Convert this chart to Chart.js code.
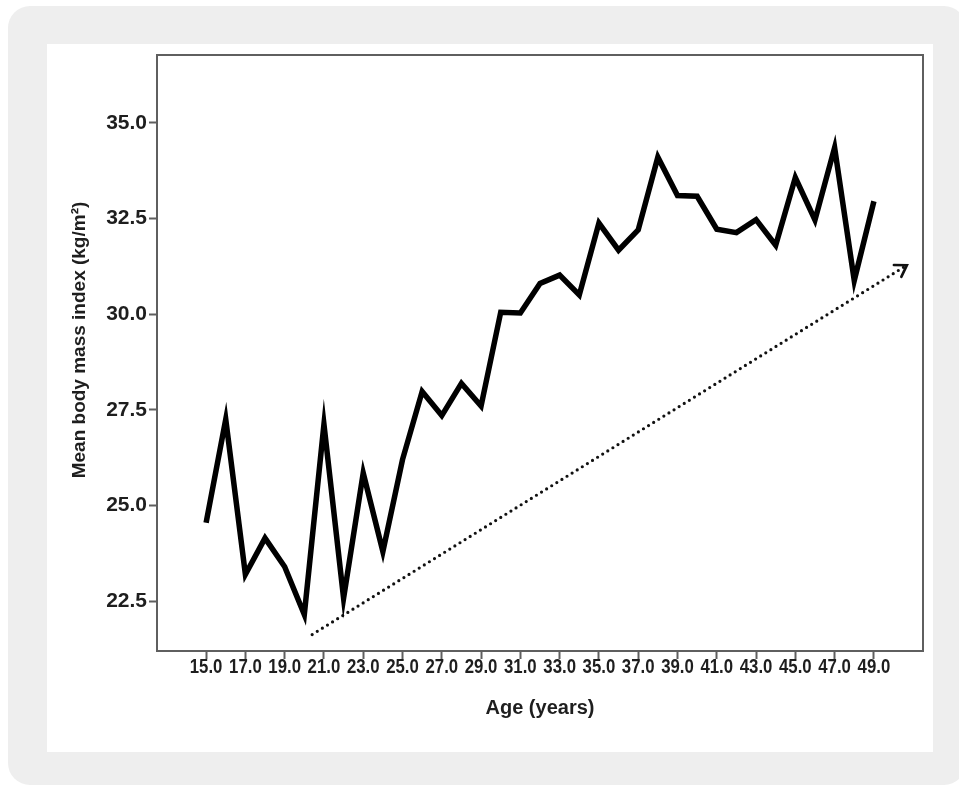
<!DOCTYPE html>
<html>
<head>
<meta charset="utf-8">
<script src="https://cdn.jsdelivr.net/npm/chart.js@4/dist/chart.umd.min.js"></script>
<style>
  html, body { margin: 0; padding: 0; background: #ffffff; }
  body { width: 959px; height: 786px; overflow: hidden; position: relative; }
  #panel { position: absolute; left: 8px; top: 6px; width: 958px; height: 779px; background: #eeeeee; border-radius: 22px; }
  #sheet { position: absolute; left: 47px; top: 44px; width: 886px; height: 708px; background: #ffffff; }
  #wrap { position: absolute; left: 0; top: 0; width: 959px; height: 786px; }
</style>
</head>
<body>
<div id="panel"></div>
<div id="sheet"></div>
<div id="wrap"><canvas id="bmiChart" width="959" height="786"></canvas></div>
<script>
// Age in years and mean body mass index at each age
const ages = [15, 16, 17, 18, 19, 20, 21, 22, 23, 24, 25, 26, 27, 28, 29, 30, 31, 32,
              33, 34, 35, 36, 37, 38, 39, 40, 41, 42, 43, 44, 45, 46, 47, 48, 49];
const bmi = [24.55, 27.25, 23.20, 24.15, 23.40, 22.15, 27.12, 22.58, 25.85, 23.80,
             26.20, 27.98, 27.35, 28.19, 27.60, 30.05, 30.03, 30.80, 31.02, 30.50,
             32.38, 31.67, 32.20, 34.10, 33.10, 33.08, 32.22, 32.13, 32.47, 31.80,
             33.57, 32.46, 34.35, 30.88, 32.95];

// Upward trend arrow (start and end)
const trendAge = [20.4, 50.68];
const trendBmi = [21.63, 31.28];

// Axis tick values
const xTicks = [15, 17, 19, 21, 23, 25, 27, 29, 31, 33, 35, 37, 39, 41, 43, 45, 47, 49];
const yTicks = [22.5, 25.0, 27.5, 30.0, 32.5, 35.0];

const yTitle = 'Mean body mass index (kg/m²)';
const xTitle = 'Age (years)';

const FONT = '"Liberation Sans", Arial, Helvetica, sans-serif';
const INK = '#1e1e1e';
const FRAME = '#5f5f5f';
const fmt = v => Number(v).toFixed(1);

// Closed frame around the plotting area
const framePlugin = {
  id: 'frame',
  beforeDatasetsDraw(chart) {
    const a = chart.chartArea, ctx = chart.ctx;
    ctx.save();
    ctx.strokeStyle = FRAME;
    ctx.lineWidth = 2;
    ctx.strokeRect(a.left, a.top, a.right - a.left, a.bottom - a.top);
    ctx.restore();
  }
};

// Narrow, tall age labels under each tick of the x scale
const xLabelPlugin = {
  id: 'xLabels',
  afterDraw(chart) {
    const s = chart.scales.x, ctx = chart.ctx;
    ctx.save();
    ctx.font = 'bold 20px ' + FONT;
    ctx.fillStyle = INK;
    ctx.textAlign = 'center';
    ctx.textBaseline = 'middle';
    s.ticks.forEach(t => {
      ctx.save();
      ctx.translate(s.getPixelForValue(t.value), chart.chartArea.bottom + 16);
      ctx.scale(0.84, 1);
      ctx.fillText(fmt(t.value), 0, 0);
      ctx.restore();
    });
    ctx.restore();
  }
};

// Vertical axis title, set a little above the middle of the frame
const yTitlePlugin = {
  id: 'yTitle',
  afterDraw(chart) {
    const ctx = chart.ctx, a = chart.chartArea;
    ctx.save();
    ctx.translate(80, (a.top + a.bottom) / 2 - 13);
    ctx.rotate(-Math.PI / 2);
    ctx.font = 'bold 19px ' + FONT;
    ctx.fillStyle = INK;
    ctx.textAlign = 'center';
    ctx.textBaseline = 'middle';
    ctx.fillText(yTitle, 0, 0);
    ctx.restore();
  }
};

// Open arrowhead at the end of the trend line
const arrowPlugin = {
  id: 'arrowHead',
  afterDatasetsDraw(chart) {
    const pts = chart.getDatasetMeta(1).data;
    if (pts.length < 2) return;
    const p0 = pts[pts.length - 2], p1 = pts[pts.length - 1];
    const ang = Math.atan2(p1.y - p0.y, p1.x - p0.x);
    const len = 13, spread = Math.PI / 5.5;
    const ctx = chart.ctx;
    ctx.save();
    ctx.strokeStyle = '#111';
    ctx.lineWidth = 2.6;
    ctx.lineCap = 'round';
    ctx.lineJoin = 'miter';
    ctx.beginPath();
    ctx.moveTo(p1.x - len * Math.cos(ang - spread), p1.y - len * Math.sin(ang - spread));
    ctx.lineTo(p1.x, p1.y);
    ctx.lineTo(p1.x - len * Math.cos(ang + spread), p1.y - len * Math.sin(ang + spread));
    ctx.stroke();
    ctx.restore();
  }
};

new Chart(document.getElementById('bmiChart'), {
  type: 'line',
  data: {
    datasets: [
      {
        data: ages.map((a, i) => ({ x: a, y: bmi[i] })),
        borderColor: '#000000',
        borderWidth: 5.5,
        borderJoinStyle: 'miter',
        borderCapStyle: 'butt',
        pointRadius: 0,
        tension: 0,
        fill: false
      },
      {
        data: trendAge.map((a, i) => ({ x: a, y: trendBmi[i] })),
        borderColor: '#111111',
        borderWidth: 3.2,
        borderDash: [0, 6],
        borderCapStyle: 'round',
        pointRadius: 0,
        tension: 0,
        fill: false,
        clip: false
      }
    ]
  },
  options: {
    responsive: false,
    animation: false,
    events: [],
    layout: { padding: { left: 0, top: 55, right: 36, bottom: 0 } },
    plugins: { legend: { display: false }, tooltip: { enabled: false } },
    scales: {
      x: {
        type: 'linear',
        position: 'bottom',
        min: 12.5,
        max: 51.5,
        afterBuildTicks: s => { s.ticks = xTicks.map(v => ({ value: v })); },
        afterFit: s => { s.height = 135; },
        border: { display: false },
        grid: { drawOnChartArea: false, drawTicks: true, tickLength: 8, tickColor: FRAME, tickWidth: 2 },
        ticks: { display: false, autoSkip: false, callback: fmt },
        title: {
          display: true, text: xTitle, color: INK,
          font: { family: FONT, size: 20, weight: 'bold' },
          padding: { top: 0, bottom: 66 }
        }
      },
      y: {
        type: 'linear',
        position: 'left',
        min: 21.2,
        max: 36.77,
        afterBuildTicks: s => { s.ticks = yTicks.map(v => ({ value: v })); },
        afterFit: s => { s.width = 157; },
        border: { display: false },
        grid: { drawOnChartArea: false, drawTicks: true, tickLength: 8, tickColor: FRAME, tickWidth: 2 },
        ticks: {
          padding: 2, color: INK,
          font: { family: FONT, size: 21, weight: 'bold' },
          callback: fmt
        },
        title: { display: false }
      }
    }
  },
  plugins: [framePlugin, xLabelPlugin, yTitlePlugin, arrowPlugin]
});
</script>
</body>
</html>
